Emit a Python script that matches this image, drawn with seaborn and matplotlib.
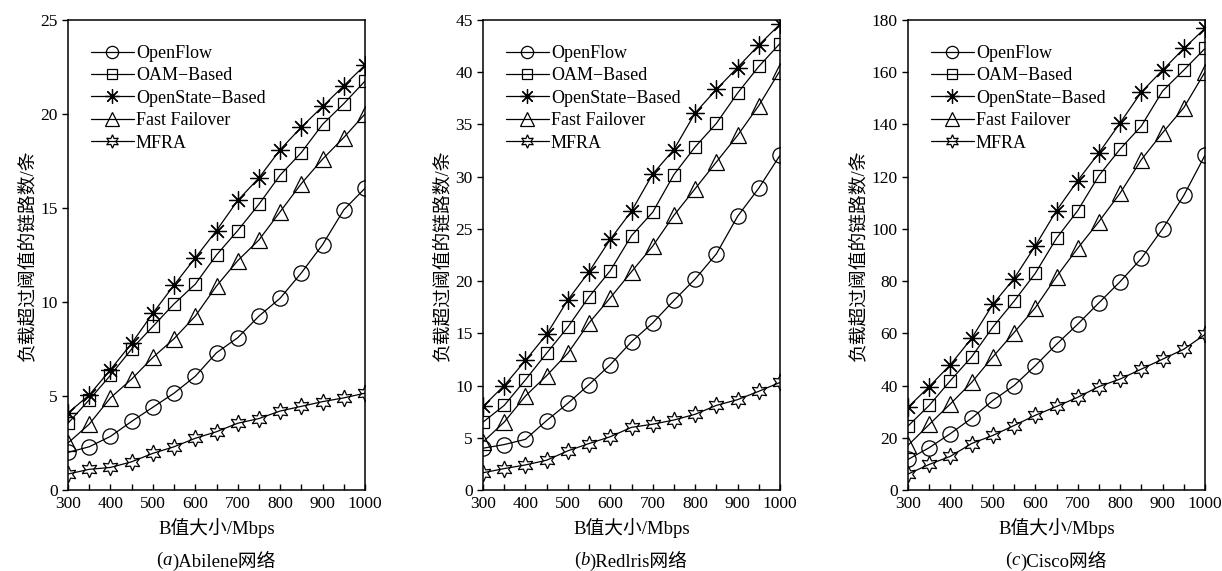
import matplotlib
matplotlib.use("Agg")
import matplotlib.pyplot as plt
import seaborn as sns
import numpy as np

sns.set_theme(style="white")
plt.rcParams['font.family'] = ['Liberation Serif', 'Noto Sans CJK SC']
plt.rcParams['axes.unicode_minus'] = False

# 横轴: B值大小
b_values = [300, 350, 400, 450, 500, 550, 600, 650, 700, 750, 800, 850, 900, 950, 1000]
series_names = ["OpenFlow", "OAM\u2212Based", "OpenState\u2212Based", "Fast Failover", "MFRA"]

# (a) Abilene网络
abilene_openflow = [2.0, 2.3, 2.85, 3.65, 4.4, 5.15, 6.05, 7.3, 8.1, 9.25, 10.2, 11.55, 13.05, 14.9, 16.05]
abilene_oam = [3.55, 4.8, 6.1, 7.5, 8.7, 9.9, 10.95, 12.5, 13.8, 15.2, 16.75, 17.95, 19.45, 20.55, 21.75]
abilene_openstate = [4.1, 5.05, 6.4, 7.8, 9.4, 10.9, 12.35, 13.8, 15.4, 16.6, 18.1, 19.3, 20.4, 21.5, 22.6]
abilene_ff = [2.5, 3.5, 4.9, 5.9, 7.05, 8.05, 9.25, 10.85, 12.2, 13.3, 14.8, 16.3, 17.6, 18.75, 20.0]
abilene_mfra = [0.85, 1.1, 1.2, 1.5, 1.95, 2.3, 2.75, 3.1, 3.55, 3.8, 4.2, 4.45, 4.7, 4.9, 5.15]

# (b) Redlris网络
redlris_openflow = [4.0, 4.35, 4.85, 6.65, 8.3, 10.1, 12.0, 14.2, 16.0, 18.15, 20.2, 22.6, 26.2, 28.9, 32.05]
redlris_oam = [6.5, 8.1, 10.55, 13.1, 15.6, 18.5, 21.0, 24.35, 26.6, 30.2, 32.85, 35.1, 38.0, 40.55, 42.75]
redlris_openstate = [8.0, 10.0, 12.4, 14.9, 18.2, 20.9, 24.0, 26.7, 30.25, 32.6, 36.1, 38.35, 40.45, 42.6, 44.6]
redlris_ff = [4.6, 6.5, 9.0, 10.95, 13.1, 16.0, 18.4, 20.9, 23.35, 26.3, 28.85, 31.4, 33.95, 36.8, 40.15]
redlris_mfra = [1.65, 2.05, 2.4, 2.85, 3.75, 4.45, 5.1, 6.0, 6.3, 6.7, 7.25, 8.1, 8.65, 9.45, 10.3]

# (c) Cisco网络
cisco_openflow = [11.7, 16.2, 21.6, 27.5, 34.3, 40.0, 47.6, 55.8, 63.5, 71.7, 79.8, 88.7, 100.0, 112.8, 128.2]
cisco_oam = [24.5, 32.4, 41.9, 51.0, 62.4, 72.3, 83.0, 96.4, 107.0, 120.4, 130.6, 139.4, 152.8, 160.8, 169.1]
cisco_openstate = [31.7, 39.6, 48.0, 58.1, 71.1, 81.0, 93.5, 107.0, 118.5, 129.1, 140.6, 152.4, 160.8, 169.1, 176.8]
cisco_ff = [17.1, 25.1, 33.0, 41.2, 51.0, 60.3, 69.8, 81.7, 92.6, 102.8, 113.7, 126.5, 136.8, 146.4, 160.1]
cisco_mfra = [6.1, 9.8, 12.9, 17.8, 20.9, 24.7, 28.6, 32.0, 35.5, 39.6, 42.5, 46.3, 50.1, 53.9, 59.6]

panels = [
    (("a", "Abilene网络"), [abilene_openflow, abilene_oam, abilene_openstate, abilene_ff, abilene_mfra], 25, 5),
    (("b", "Redlris网络"), [redlris_openflow, redlris_oam, redlris_openstate, redlris_ff, redlris_mfra], 45, 5),
    (("c", "Cisco网络"), [cisco_openflow, cisco_oam, cisco_openstate, cisco_ff, cisco_mfra], 180, 20),
]

markers = ['o', 's', (8, 2, 0), '^', (6, 1, 0)]
msizes = [11, 9, 13, 12, 12]

fig = plt.figure(figsize=(12.22, 5.71), dpi=100)
renderer = fig.canvas.get_renderer()
lefts = [68, 483, 908]

for (caption, data, ymax, ystep), left in zip(panels, lefts):
    ax = fig.add_axes([left / 1222, 81 / 571, 297 / 1222, 470 / 571])
    for name, vals, mk, ms in zip(series_names, data, markers, msizes):
        sns.lineplot(x=b_values, y=vals, ax=ax, label=name, color='black', lw=0.9,
                     marker=mk, markersize=ms, mfc='none', mec='black', mew=0.9)
    ax.set_xlim(300, 1000)
    ax.set_ylim(0, ymax)
    ax.set_xticks(range(300, 1001, 100))
    ax.set_xticks(range(350, 1000, 100), minor=True)
    ax.set_yticks(np.arange(0, ymax + 0.1, ystep))
    ax.tick_params(axis='x', which='both', direction='in', length=4, width=1, labelsize=12.5,
                   bottom=True, top=False, colors='black', pad=4)
    ax.tick_params(axis='y', direction='out', length=4, width=1, labelsize=12.5,
                   left=True, right=False, colors='black')
    for sp in ax.spines.values():
        sp.set_color('black')
        sp.set_linewidth(1.1)
    ax.set_xlabel("B值大小/Mbps", fontsize=13.5, color='black', labelpad=5)
    ax.set_ylabel("负载超过阈值的链路数/条", fontsize=13.5, color='black', labelpad=3)
    leg = ax.legend(loc='upper left', bbox_to_anchor=(0.04, 0.97), frameon=False, fontsize=13,
                    handlelength=2.4, handletextpad=0.1, labelspacing=0.3, markerscale=0.8,
                    borderaxespad=0.2)
    for t in leg.get_texts():
        t.set_color('black')

    # 子图标题: (斜体字母)名称
    pieces = [("(", 'normal'), (caption[0], 'italic'), (")" + caption[1], 'normal')]
    widths = []
    for s, st in pieces:
        tmp = fig.text(0, 0, s, fontsize=13.5, style=st)
        widths.append(tmp.get_window_extent(renderer).width)
        tmp.remove()
    x0 = left + 148 - sum(widths) / 2
    for (s, st), w in zip(pieces, widths):
        fig.text(x0 / 1222, 0.018, s, ha='left', va='center', fontsize=13.5, style=st, color='black')
        x0 += w

fig.savefig("out.png", dpi=100)
